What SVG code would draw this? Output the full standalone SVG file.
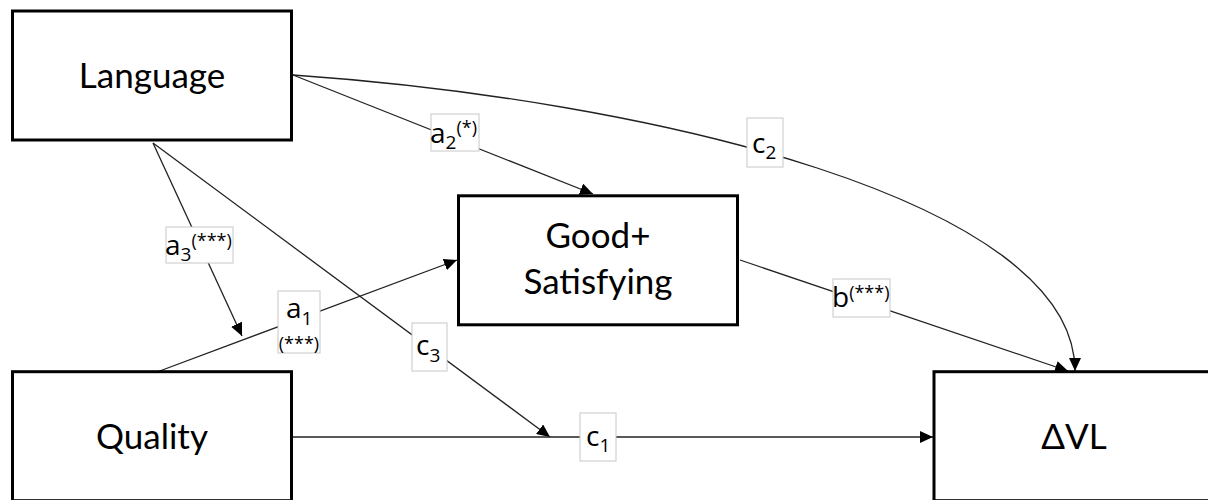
<svg xmlns="http://www.w3.org/2000/svg" width="1208" height="500" viewBox="0 0 1208 500">
<style>
.box{fill:#fff;stroke:#000;stroke-width:3}
.nt{font-family:Lato,"Liberation Sans",sans-serif;font-size:35px;fill:#000;text-anchor:middle}
.cn{fill:none;stroke:#222;stroke-width:1.3}
.lbox{fill:#fff;stroke:#c8c8c8;stroke-width:1}
.lb{font-family:"Open Sans","Liberation Sans",sans-serif;font-size:28px;fill:#000}
.sb{font-size:19px}
.sp{font-size:18px}
</style>
<defs>
<marker id="ah" markerUnits="userSpaceOnUse" markerWidth="14" markerHeight="12" refX="13" refY="6" orient="auto">
<path d="M0,0 L13,6 L0,12 Z" fill="#000"/>
</marker>
</defs>
<rect width="1208" height="500" fill="#fff"/>
<g id="connectors">
<path class="cn" d="M293,75 C650,100 1075,200 1075,371" marker-end="url(#ah)"/>
<path class="cn" d="M293,75 L593,194" marker-end="url(#ah)"/>
<path class="cn" d="M153,143 L242,336" marker-end="url(#ah)"/>
<path class="cn" d="M153,143 L550,437" marker-end="url(#ah)"/>
<path class="cn" d="M157,372 L457,260" marker-end="url(#ah)"/>
<path class="cn" d="M293,437 L933,437" marker-end="url(#ah)"/>
<path class="cn" d="M740,260 L1068,371" marker-end="url(#ah)"/>
<g id="labels">
<rect class="lbox" x="431" y="114" width="48" height="37"/>
<text class="lb" x="430" y="143">a<tspan class="sb" y="149">2</tspan><tspan class="sp" y="134">(*)</tspan></text>
<rect class="lbox" x="747" y="118" width="36" height="49"/>
<text class="lb" x="752" y="153">c<tspan class="sb" y="159">2</tspan></text>
<rect class="lbox" x="166" y="227" width="67" height="36"/>
<text class="lb" x="165" y="255">a<tspan class="sb" y="261">3</tspan><tspan class="sp" y="247" font-size="16px">(***)</tspan></text>
<rect class="lbox" x="278" y="291" width="42" height="62"/>
<text class="lb" x="286" y="318">a<tspan class="sb" y="325">1</tspan></text>
<text class="lb sp" x="299" y="350" text-anchor="middle">(***)</text>
<rect class="lbox" x="412" y="323" width="35" height="48"/>
<text class="lb" x="416" y="355">c<tspan class="sb" y="362">3</tspan></text>
<rect class="lbox" x="580" y="413" width="36" height="48"/>
<text class="lb" x="586" y="446">c<tspan class="sb" y="452">1</tspan></text>
<rect class="lbox" x="833" y="279" width="57" height="38"/>
<text class="lb" x="832" y="307">b<tspan class="sp" y="299">(***)</tspan></text>
</g>
</g>
<g id="language">
<rect class="box" x="12.5" y="11" width="279" height="129"/>
<text class="nt" x="152" y="88">Language</text>
</g>
<g id="good-satisfying">
<rect class="box" x="458.5" y="195.8" width="279" height="129"/>
<text class="nt" x="598" y="248">Good+</text>
<text class="nt" x="598" y="294">Satisfying</text>
</g>
<g id="quality">
<rect class="box" x="12.5" y="371.7" width="279" height="129"/>
<text class="nt" x="152" y="449">Quality</text>
</g>
<g id="dvl">
<rect class="box" x="934" y="371.7" width="279" height="129"/>
<text class="nt" x="1074" y="449">ΔVL</text>
</g>
</svg>
